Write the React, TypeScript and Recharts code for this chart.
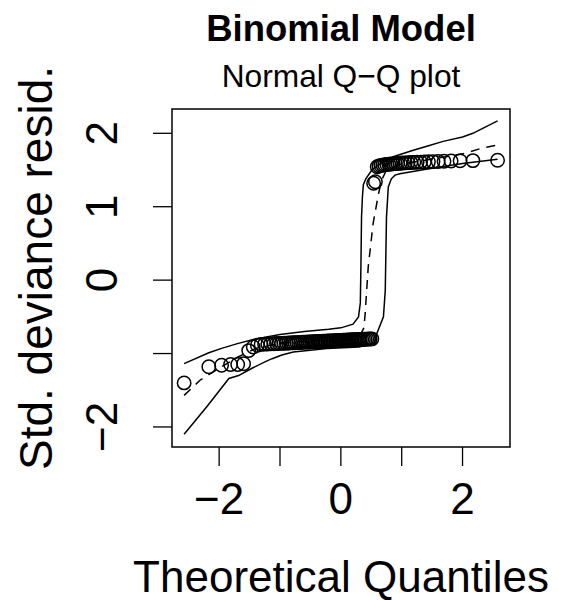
import { ComposedChart, Scatter, Line, XAxis, YAxis, ReferenceArea } from 'recharts';

const FONT = '"Liberation Sans", Arial, Helvetica, sans-serif';

// theoretical normal quantiles of the 100 residuals
const theoQuantiles = [
  -2.5758, -2.1701, -1.96, -1.8119, -1.6954, -1.5982, -1.5141, -1.4395, -1.3722, -1.3106,
  -1.2536, -1.2004, -1.1503, -1.1031, -1.0581, -1.0152, -0.9741, -0.9346, -0.8965, -0.8596,
  -0.8239, -0.7892, -0.7554, -0.7225, -0.6903, -0.6588, -0.628, -0.5978, -0.5681, -0.5388,
  -0.5101, -0.4817, -0.4538, -0.4261, -0.3989, -0.3719, -0.3451, -0.3186, -0.2924, -0.2663,
  -0.2404, -0.2147, -0.1891, -0.1637, -0.1383, -0.113, -0.0878, -0.0627, -0.0376, -0.0125,
  0.0125, 0.0376, 0.0627, 0.0878, 0.113, 0.1383, 0.1637, 0.1891, 0.2147, 0.2404,
  0.2663, 0.2924, 0.3186, 0.3451, 0.3719, 0.3989, 0.4261, 0.4538, 0.4817, 0.5101,
  0.5388, 0.5681, 0.5978, 0.628, 0.6588, 0.6903, 0.7225, 0.7554, 0.7892, 0.8239,
  0.8596, 0.8965, 0.9346, 0.9741, 1.0152, 1.0581, 1.1031, 1.1503, 1.2004, 1.2536,
  1.3106, 1.3722, 1.4395, 1.5141, 1.5982, 1.6954, 1.8119, 1.96, 2.1701, 2.5758,
];

// sorted standardized deviance residuals
const stdDevResid = [
  -1.4, -1.18, -1.16, -1.15, -1.15, -1.14, -0.96, -0.91, -0.887, -0.875,
  -0.872, -0.87, -0.868, -0.866, -0.864, -0.863, -0.861, -0.859, -0.858, -0.856,
  -0.855, -0.853, -0.852, -0.851, -0.849, -0.848, -0.847, -0.845, -0.844, -0.843,
  -0.842, -0.841, -0.84, -0.838, -0.837, -0.836, -0.835, -0.834, -0.833, -0.832,
  -0.831, -0.83, -0.829, -0.828, -0.827, -0.826, -0.825, -0.824, -0.823, -0.821,
  -0.82, -0.819, -0.818, -0.817, -0.816, -0.815, -0.814, -0.813, -0.812, -0.811,
  -0.81, -0.809, -0.808, -0.807, -0.806, -0.805, -0.803, -0.802, -0.801, -0.8,
  1.32, 1.34, 1.545, 1.555, 1.562, 1.567, 1.571, 1.575, 1.578, 1.581,
  1.584, 1.587, 1.59, 1.592, 1.595, 1.597, 1.6, 1.602, 1.604, 1.606,
  1.608, 1.61, 1.612, 1.614, 1.616, 1.619, 1.622, 1.625, 1.628, 1.632,
];

// simulated envelope
const upperEnvX = [-2.576, -2.17, -1.96, -1.7, -1.44, -1.2, -1.0, -0.6, -0.2, 0.0, 0.2, 0.29, 0.32, 0.33, 0.34, 0.355, 0.37, 0.41, 0.51, 0.62, 0.86, 1.19, 1.4, 1.68, 2.0, 2.17, 2.576];
const upperEnvY = [-1.137, -0.99, -0.93, -0.865, -0.81, -0.77, -0.74, -0.7, -0.67, -0.65, -0.6, -0.5, -0.31, 0.2, 0.86, 1.14, 1.3, 1.38, 1.5, 1.57, 1.68, 1.77, 1.82, 1.89, 1.95, 2.0, 2.17];

const lowerEnvX = [-2.576, -2.2, -1.84, -1.68, -1.46, -1.24, -1.13, -0.97, -0.78, -0.23, 0.3, 0.55, 0.59, 0.7, 0.73, 0.75, 0.78, 0.83, 0.89, 0.97, 1.4, 2.0, 2.576];
const lowerEnvY = [-2.1, -1.72, -1.34, -1.3, -1.2, -1.11, -1.07, -1.02, -0.98, -0.93, -0.91, -0.86, -0.73, -0.5, -0.14, 0.86, 1.27, 1.38, 1.43, 1.45, 1.51, 1.59, 1.645];

const medianX = [-2.576, -2.31, -2.0, -1.7, -1.4, -1.0, -0.5, 0.0, 0.3, 0.38, 0.4, 0.45, 0.53, 0.62, 0.67, 0.75, 1.0, 1.5, 2.0, 2.33, 2.576];
const medianY = [-1.57, -1.36, -1.2, -1.05, -0.93, -0.86, -0.83, -0.81, -0.78, -0.65, -0.45, 0.18, 0.77, 1.18, 1.36, 1.5, 1.58, 1.65, 1.72, 1.8, 1.84];

const xTicks = [-2, -1, 0, 1, 2];
const xTickLabels = ['\u22122', '', '0', '', '2'];
const yTicks = [-2, -1, 0, 1, 2];
const yTickLabels = ['\u22122', '', '0', '1', '2'];

const points = theoQuantiles.map((x, i) => ({ x, y: stdDevResid[i] }));
const toSeries = (xs: number[], ys: number[]) => xs.map((x, i) => ({ x, y: ys[i] }));
const upperEnv = toSeries(upperEnvX, upperEnvY);
const lowerEnv = toSeries(lowerEnvX, lowerEnvY);
const medianEnv = toSeries(medianX, medianY);

const X_DOMAIN: [number, number] = [-2.775, 2.78];
const Y_DOMAIN: [number, number] = [-2.273, 2.331];

const XTick = ({ x, payload }: any) => (
  <text x={x} y={514} textAnchor="middle" fontSize={44} fontFamily={FONT} fill="#000">
    {xTickLabels[xTicks.indexOf(payload.value)]}
  </text>
);

const YTick = ({ y, payload }: any) => (
  <text
    transform={`translate(117, ${y}) rotate(-90)`}
    textAnchor="middle"
    fontSize={44}
    fontFamily={FONT}
    fill="#000"
  >
    {yTickLabels[yTicks.indexOf(payload.value)]}
  </text>
);

const Circle = (p: any) => (
  <circle cx={p.cx} cy={p.cy} r={6.7} fill="none" stroke="#000" strokeWidth={1.5} />
);

export default function App() {
  return (
    <div style={{ position: 'relative', width: 573, height: 600, background: '#fff' }}>
      <style>{`body { margin: 0; }`}</style>
      <ComposedChart width={573} height={600} margin={{ top: 109, right: 63, bottom: 0, left: 0 }}>
        <XAxis
          dataKey="x"
          type="number"
          domain={X_DOMAIN}
          allowDataOverflow
          ticks={xTicks}
          tick={<XTick />}
          tickSize={19}
          tickLine={{ stroke: '#000', strokeWidth: 1.3 }}
          axisLine={false}
          height={153}
        />
        <YAxis
          dataKey="y"
          type="number"
          domain={Y_DOMAIN}
          allowDataOverflow
          ticks={yTicks}
          tick={<YTick />}
          tickSize={19}
          tickLine={{ stroke: '#000', strokeWidth: 1.3 }}
          axisLine={false}
          width={172}
        />
        <ReferenceArea
          x1={X_DOMAIN[0]}
          x2={X_DOMAIN[1]}
          y1={Y_DOMAIN[0]}
          y2={Y_DOMAIN[1]}
          fill="none"
          stroke="#000"
          strokeWidth={1.5}
          ifOverflow="visible"
        />
        <Line data={upperEnv} dataKey="y" type="linear" stroke="#000" strokeWidth={1.5} dot={false} isAnimationActive={false} />
        <Line data={lowerEnv} dataKey="y" type="linear" stroke="#000" strokeWidth={1.5} dot={false} isAnimationActive={false} />
        <Line data={medianEnv} dataKey="y" type="linear" stroke="#000" strokeWidth={1.5} strokeDasharray="9 7" dot={false} isAnimationActive={false} />
        <Scatter data={points} dataKey="y" shape={Circle} isAnimationActive={false} />
      </ComposedChart>
      <svg
        width={573}
        height={600}
        style={{ position: 'absolute', left: 0, top: 0, pointerEvents: 'none' }}
        fontFamily={FONT}
      >
        <text x={341} y={41} textAnchor="middle" fontSize={36.5} fontWeight="bold" fill="#000">
          Binomial Model
        </text>
        <text x={341} y={87} textAnchor="middle" fontSize={31.7} fill="#000">
          Normal Q{'\u2212'}Q plot
        </text>
        <text x={341} y={592} textAnchor="middle" fontSize={44} fill="#000">
          Theoretical Quantiles
        </text>
        <text transform="translate(52, 268) rotate(-90)" textAnchor="middle" fontSize={46} fill="#000">
          Std. deviance resid.
        </text>
      </svg>
    </div>
  );
}
